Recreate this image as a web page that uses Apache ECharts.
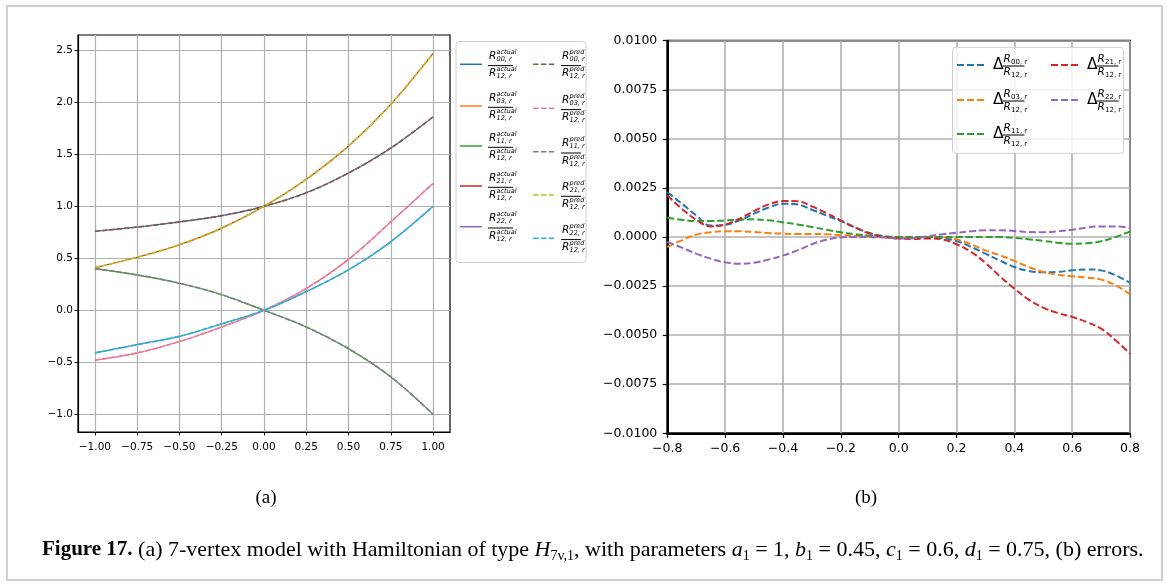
<!DOCTYPE html>
<html><head><meta charset="utf-8">
<script src="https://cdn.jsdelivr.net/npm/echarts@6/dist/echarts.min.js"></script>
<style>html,body{margin:0;padding:0;background:#fff}#c{width:1167px;height:587px}</style>
</head><body><div id="c"></div>
<script>
// ---------- panel (a) data ----------
const xA = [-1, -0.75, -0.5, -0.25, 0, 0.25, 0.5, 0.75, 1];
const act00 = [0.76, 0.80, 0.85, 0.91, 1.0, 1.13, 1.32, 1.56, 1.86];
const act03 = [-0.48, -0.41, -0.30, -0.16, 0, 0.21, 0.49, 0.85, 1.22];
const act11 = [0.40, 0.34, 0.26, 0.15, 0, -0.16, -0.37, -0.64, -1.0];
const act21 = [0.41, 0.51, 0.63, 0.79, 1.0, 1.26, 1.58, 1.98, 2.47];
const act22 = [-0.41, -0.33, -0.25, -0.13, 0, 0.18, 0.39, 0.66, 1.0];
const pred00 = [0.76, 0.80, 0.85, 0.91, 1.0, 1.13, 1.32, 1.56, 1.86];
const pred03 = [-0.48, -0.41, -0.30, -0.16, 0, 0.21, 0.49, 0.85, 1.22];
const pred11 = [0.40, 0.34, 0.26, 0.15, 0, -0.16, -0.37, -0.64, -1.0];
const pred21 = [0.41, 0.51, 0.63, 0.79, 1.0, 1.26, 1.58, 1.98, 2.47];
const pred22 = [-0.41, -0.33, -0.25, -0.13, 0, 0.18, 0.39, 0.66, 1.0];
const xTicksA = [-1, -0.75, -0.5, -0.25, 0, 0.25, 0.5, 0.75, 1];
const yTicksA = [-1, -0.5, 0, 0.5, 1, 1.5, 2, 2.5];
const codesA = ['00', '03', '11', '21', '22'];

// ---------- panel (b) data ----------
const xB = [-0.80,-0.75,-0.70,-0.65,-0.60,-0.55,-0.50,-0.45,-0.40,-0.35,-0.30,-0.25,-0.20,-0.15,-0.10,-0.05,
            0.00,0.05,0.10,0.15,0.20,0.25,0.30,0.35,0.40,0.45,0.50,0.55,0.60,0.65,0.70,0.75,0.80];
const err00 = [0.00229,0.0017,0.0011,0.00058,0.00062,0.00085,0.00119,0.0015,0.0017,0.00166,0.00139,0.0011,0.00081,0.00048,0.0002,0.00005,
               0,0,0,-0.00005,-0.0002,-0.0005,-0.00085,-0.0012,-0.00153,-0.00173,-0.0018,-0.00178,-0.0017,-0.00165,-0.0017,-0.00195,-0.00234];
const err03 = [-0.00051,-0.00017,0.00012,0.00024,0.00029,0.00029,0.00025,0.0002,0.00017,0.00015,0.00015,0.00014,0.0001,0.00007,0.00003,0,
               -0.00003,-0.00003,0,0,-0.00012,-0.00037,-0.00068,-0.00093,-0.00122,-0.00153,-0.00178,-0.00192,-0.002,-0.00207,-0.00217,-0.00246,-0.00292];
const err11 = [0.00098,0.00088,0.00081,0.00081,0.00085,0.00088,0.0009,0.00085,0.00075,0.00064,0.00051,0.00037,0.00024,0.00014,0.00007,0.00002,
               0,0,0,0,0,0,0,0,-0.00005,-0.00012,-0.0002,-0.00029,-0.00034,-0.00032,-0.00022,0,0.00029];
const err21 = [0.00212,0.00144,0.00088,0.00054,0.00063,0.00093,0.00132,0.00166,0.00183,0.00182,0.00156,0.00122,0.00085,0.00048,0.00017,0,
               -0.00008,-0.0001,-0.00007,-0.00012,-0.00037,-0.00076,-0.00132,-0.002,-0.00263,-0.00319,-0.0036,-0.00387,-0.00407,-0.00433,-0.00467,-0.00526,-0.00594];
const err22 = [-0.00025,-0.00054,-0.00085,-0.0011,-0.00129,-0.00136,-0.00131,-0.00115,-0.00095,-0.00068,-0.00037,-0.00014,-0.00002,0,0,-0.00003,
               -0.00008,-0.00007,0.00003,0.00014,0.00022,0.00029,0.00034,0.00034,0.00031,0.00025,0.00024,0.00029,0.00037,0.00048,0.00054,0.00054,0.00046];
const codesB = ['00', '03', '11', '21', '22'];

const C = ['#1f77b4','#ff7f0e','#2ca02c','#d62728','#9467bd','#8c564b','#e377c2','#7f7f7f','#bcbd22','#17becf'];
const SANS = 'DejaVu Sans';
const SERIF = 'Liberation Serif';

function fmtMinus(v, d) {
  if (Math.abs(v) < 1e-12) v = 0;
  const s = Math.abs(v).toFixed(d);
  return (v < 0 ? '\u2212' : '') + s;
}
const pairs = (xs, ys) => xs.map((x, i) => [x, ys[i]]);

const actual = [act00, act03, act11, act21, act22];
const pred = [pred00, pred03, pred11, pred21, pred22];
const errs = [err00, err03, err11, err21, err22];

const series = [];
actual.forEach((arr, i) => series.push({
  type: 'line', xAxisIndex: 0, yAxisIndex: 0, data: pairs(xA, arr), showSymbol: false,
  smooth: 0.35, lineStyle: { color: C[i], width: 1.2 }, silent: true
}));
pred.forEach((arr, i) => series.push({
  type: 'line', xAxisIndex: 0, yAxisIndex: 0, data: pairs(xA, arr), showSymbol: false,
  smooth: 0.35, lineStyle: { color: C[i + 5], width: 1.7, type: [5.5, 1.8] }, silent: true
}));
errs.forEach((arr, i) => series.push({
  type: 'line', xAxisIndex: 1, yAxisIndex: 1, data: pairs(xB, arr), showSymbol: false,
  smooth: 0.4, lineStyle: { color: C[i], width: 2, type: [7, 3] }, silent: true
}));

// ---------- graphic: legends, labels, caption ----------
const G = [];
G.push({ type: 'rect', shape: { x: 7, y: 6, width: 1155, height: 574 }, style: { fill: 'none', stroke: '#cfcfcf', lineWidth: 2 }, z: 0 });

function txt(x, y, text, size, opts) {
  return Object.assign({ type: 'text', x, y, z: 120,
    style: Object.assign({ text, fontSize: size, fontFamily: SANS, fill: '#000', verticalAlign: 'middle', align: 'left' }, opts || {}) });
}
// left legend
G.push({ type: 'rect', z: 110, shape: { x: 456, y: 41.5, width: 130, height: 221, r: 3 }, style: { fill: 'rgba(255,255,255,0.8)', stroke: '#d0d0d0', lineWidth: 1 } });
const rowsA1 = [64.3, 106, 146, 186, 226.7];
const rowsA2 = [64.3, 108.3, 151.7, 195, 238.3];
function fracA(x0, yb, sup, code, w) {
  G.push(txt(x0, yb - 9.5, 'R', 10.5, { fontStyle: 'italic' }));
  G.push(txt(x0 + 7.5, yb - 13.3, sup, 6.5, { fontStyle: 'italic' }));
  G.push(txt(x0 + 7.5, yb - 6.2, code + ', r', 6.5, { fontStyle: 'italic' }));
  G.push({ type: 'line', z: 120, shape: { x1: x0 - 1, y1: yb, x2: x0 + w, y2: yb }, style: { stroke: '#000', lineWidth: 1 } });
  G.push(txt(x0, yb + 8, 'R', 10.5, { fontStyle: 'italic' }));
  G.push(txt(x0 + 7.5, yb + 4.2, sup, 6.5, { fontStyle: 'italic' }));
  G.push(txt(x0 + 7.5, yb + 11.2, '12, r', 6.5, { fontStyle: 'italic' }));
}
codesA.forEach((code, i) => {
  const y1 = rowsA1[i];
  G.push({ type: 'line', z: 120, shape: { x1: 460, y1: y1, x2: 482, y2: y1 }, style: { stroke: C[i], lineWidth: 1.5 } });
  fracA(489, y1 + 1.3, 'actual', code, 24);
  const y2 = rowsA2[i];
  G.push({ type: 'line', z: 120, shape: { x1: 533, y1: y2, x2: 554, y2: y2 }, style: { stroke: C[i + 5], lineWidth: 1.5, lineDash: [5.5, 2.4] } });
  fracA(562, y2 + 1.3, 'pred', code, 19);
});
// right legend
G.push({ type: 'rect', z: 110, shape: { x: 952.5, y: 47.3, width: 171, height: 106, r: 3 }, style: { fill: 'rgba(255,255,255,0.8)', stroke: '#d0d0d0', lineWidth: 1 } });
const legPosB = [[957, 65], [957, 100], [957, 134], [1051, 65], [1051, 100]];
codesB.forEach((code, i) => {
  const [lx, ly] = legPosB[i];
  G.push({ type: 'line', z: 120, shape: { x1: lx, y1: ly, x2: lx + 27, y2: ly }, style: { stroke: C[i], lineWidth: 2, lineDash: [7, 3] } });
  const xd = lx + 36, yb = ly + 1;
  G.push(txt(xd, yb - 1, '\u0394', 15.5));
  const x0 = xd + 9.5;
  G.push(txt(x0 + 1, yb - 6.5, 'R', 10.5, { fontStyle: 'italic' }));
  G.push(txt(x0 + 8.5, yb - 3.8, code + ', r', 7));
  G.push({ type: 'line', z: 120, shape: { x1: x0, y1: yb, x2: x0 + 22, y2: yb }, style: { stroke: '#000', lineWidth: 1 } });
  G.push(txt(x0 + 1, yb + 6.5, 'R', 10.5, { fontStyle: 'italic' }));
  G.push(txt(x0 + 8.5, yb + 9.2, '12, r', 7));
});
// (a) (b)
G.push(txt(266, 498, '(a)', 19, { fontFamily: SERIF, align: 'center' }));
G.push(txt(866, 498, '(b)', 19, { fontFamily: SERIF, align: 'center' }));
// caption
G.push({ type: 'text', x: 42, y: 550, z: 120, style: {
  text: '{b|Figure 17.} (a) 7-vertex model with Hamiltonian of type {i|H}{s|7v,1}, with parameters {i|a}{s|1} = 1, {i|b}{s|1} = 0.45, {i|c}{s|1} = 0.6, {i|d}{s|1} = 0.75, (b) errors.',
  fontFamily: SERIF, fontSize: 22, fill: '#000', verticalAlign: 'middle', align: 'left', lineHeight: 26,
  rich: {
    b: { fontFamily: SERIF, fontWeight: 'bold', fontSize: 21, lineHeight: 26 },
    i: { fontFamily: SERIF, fontStyle: 'italic', fontSize: 22, lineHeight: 26 },
    s: { fontFamily: SERIF, fontSize: 14, lineHeight: 14, verticalAlign: 'bottom' }
  } } });

const option = {
  animation: false,
  backgroundColor: '#fff',
  grid: [
    { left: 78, top: 35, width: 372, height: 397, show: true, borderColor: '#000', borderWidth: 1.2, backgroundColor: 'transparent' },
    { left: 667.3, top: 40.7, width: 462.7, height: 392.6, show: true, borderColor: '#000', borderWidth: 2, backgroundColor: 'transparent' }
  ],
  xAxis: [
    { type: 'value', gridIndex: 0, min: -1.1, max: 1.1,
      axisLine: { show: true, onZero: false, lineStyle: { color: '#000', width: 1.2 } },
      axisTick: { show: true, length: 3.5, customValues: xTicksA, lineStyle: { color: '#000', width: 1 } },
      axisLabel: { customValues: xTicksA, formatter: v => fmtMinus(v, 2), fontSize: 10.5, fontFamily: SANS, color: '#000', margin: 10 },
      splitLine: { show: true, lineStyle: { color: '#b0b0b0', width: 1.2 } } },
    { type: 'value', gridIndex: 1, min: -0.8, max: 0.8, interval: 0.2,
      axisLine: { show: true, onZero: false, lineStyle: { color: '#000', width: 2 } },
      axisTick: { show: true, length: 4.5, lineStyle: { color: '#000', width: 1.2 } },
      axisLabel: { formatter: v => fmtMinus(v, 1), fontSize: 12.5, fontFamily: SANS, color: '#000', margin: 9, showMinLabel: true, showMaxLabel: true },
      splitLine: { show: true, lineStyle: { color: '#b0b0b0', width: 1.6 } } }
  ],
  yAxis: [
    { type: 'value', gridIndex: 0, min: -1.17, max: 2.647,
      axisLine: { show: true, onZero: false, lineStyle: { color: '#000', width: 1.2 } },
      axisTick: { show: true, length: 3.5, customValues: yTicksA, lineStyle: { color: '#000', width: 1 } },
      axisLabel: { customValues: yTicksA, formatter: v => fmtMinus(v, 1), fontSize: 10.5, fontFamily: SANS, color: '#000', margin: 5 },
      splitLine: { show: true, lineStyle: { color: '#b0b0b0', width: 1.2 } } },
    { type: 'value', gridIndex: 1, min: -0.01, max: 0.01, interval: 0.0025,
      axisLine: { show: true, onZero: false, lineStyle: { color: '#000', width: 2 } },
      axisTick: { show: true, length: 4.5, lineStyle: { color: '#000', width: 1.2 } },
      axisLabel: { formatter: v => fmtMinus(v, 4), fontSize: 12.5, fontFamily: SANS, color: '#000', margin: 10, showMinLabel: true, showMaxLabel: true },
      splitLine: { show: true, lineStyle: { color: '#b0b0b0', width: 1.6 } } }
  ],
  series: series,
  graphic: G
};
const chart = echarts.init(document.getElementById('c'), null, { renderer: 'canvas' });
chart.setOption(option);
</script></body></html>
